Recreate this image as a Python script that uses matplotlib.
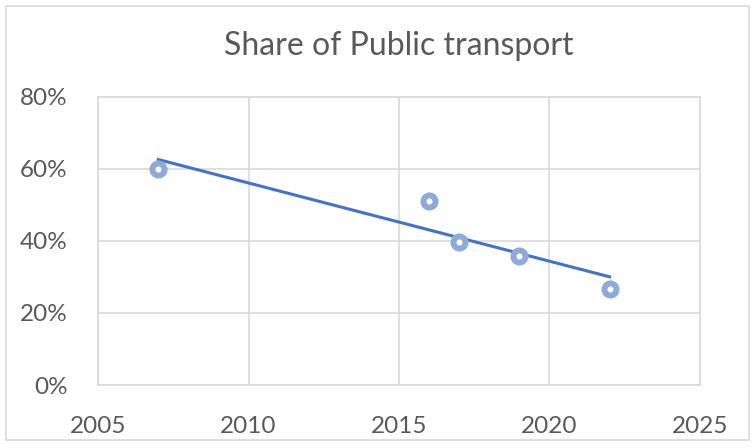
import numpy as np
import matplotlib.pyplot as plt
from matplotlib.patches import Rectangle
from matplotlib.ticker import PercentFormatter

years = [2007, 2016, 2017, 2019, 2022]
share = [0.60, 0.51, 0.397, 0.358, 0.267]
x_ticks = [2005, 2010, 2015, 2020, 2025]
y_ticks = [0, 0.2, 0.4, 0.6, 0.8]

plt.rcParams['font.family'] = ['Lato', 'DejaVu Sans']

fig = plt.figure(figsize=(7.55, 4.48), dpi=100)
fig.patches.append(Rectangle((0.008, 0.018), 0.984, 0.968, transform=fig.transFigure,
                             fill=False, edgecolor="#d9d9d9", linewidth=1.2))
ax = fig.add_axes([0.13, 0.1406, 0.797, 0.643])

# linear trendline
coef = np.polyfit(years, share, 1)
tx = np.array([min(years), max(years)])
ax.plot(tx, np.polyval(coef, tx), color="#4472c4", linewidth=2.2, zorder=3)

ax.scatter(years, share, s=76, facecolor="white", edgecolor="#8eaadb",
           linewidth=4.3, zorder=4)

ax.set_xlim(2005, 2025)
ax.set_ylim(0, 0.8)
ax.set_xticks(x_ticks)
ax.set_yticks(y_ticks)
ax.yaxis.set_major_formatter(PercentFormatter(1.0, decimals=0))
ax.grid(True, color="#d9d9d9", linewidth=1.2)
ax.set_axisbelow(True)
for s in ax.spines.values():
    s.set_color("#d9d9d9")
    s.set_linewidth(1.2)
ax.tick_params(length=0, labelsize=17.5, labelcolor="#595959")
ax.tick_params(axis="y", pad=22)
ax.tick_params(axis="x", pad=22)
ax.set_title("Share of Public transport", fontsize=23, color="#595959", pad=30)

fig.savefig("out.png", dpi=100)
